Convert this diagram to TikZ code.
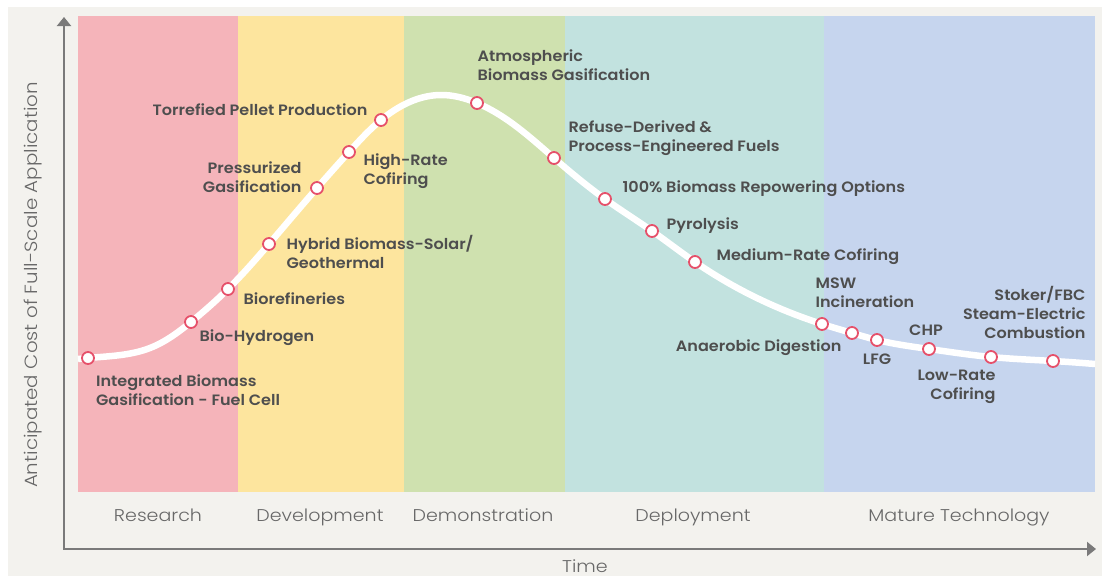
\documentclass[tikz,border=0pt]{standalone}
\usepackage{fontspec}
\setmainfont{Poppins}
\IfFontExistsTF{Poppins SemiBold}
  {\newfontfamily\lblfont{Poppins SemiBold}[FakeStretch=1.07]}
  {\newfontfamily\lblfont{Poppins}[FakeBold=1.5,FakeStretch=1.07]}
\IfFontExistsTF{Poppins Light}
  {\newfontfamily\phasefont{Poppins Light}[FakeStretch=1.12]}
  {\newfontfamily\phasefont{Poppins}[FakeStretch=1.12]}
\usetikzlibrary{positioning, arrows.meta, hobby}
\pgfdeclarelayer{bg}
\pgfsetlayers{bg,main}
\definecolor{paper}{HTML}{F3F2EE}
\definecolor{pinkband}{HTML}{F5B4BA}
\definecolor{yellowband}{HTML}{FDE59E}
\definecolor{greenband}{HTML}{CFE1AF}
\definecolor{tealband}{HTML}{C2E2DF}
\definecolor{blueband}{HTML}{C6D5EE}
\definecolor{dotred}{HTML}{E6506A}
\definecolor{txt}{HTML}{4E4E4E}
\definecolor{phasetxt}{HTML}{686868}
\definecolor{axisgray}{HTML}{7A7A7A}

\begin{document}
\begin{tikzpicture}[x=1pt, y=-1pt,
     node distance = 6pt and 6pt,
        dot/.style = {circle, draw=dotred, fill=white, line width=1.8pt,
                     minimum size=12pt, inner sep=0pt},
        lbl/.style = {font=\lblfont\fontsize{15}{19}\selectfont, text=txt,
                     inner sep=0pt, align=left},
      phase/.style = {font=\phasefont\fontsize{17}{19}\selectfont, text=phasetxt, anchor=base},
       axis/.style = {draw=axisgray, line width=2pt},
      curve/.style = {draw=white, line width=6.5pt}
                        ]
\useasboundingbox (0,0) rectangle (1102,576);
\node (igfc)    [dot] at (88,358)  {};
\node (bioh)    [dot] at (191,322) {};
\node (bioref)  [dot] at (228,289) {};
\node (hybrid)  [dot] at (269,244) {};
\node (press)   [dot] at (317,188) {};
\node (hirate)  [dot] at (349,152) {};
\node (torr)    [dot] at (381,120) {};
\node (atmo)    [dot] at (477,103) {};
\node (refuse)  [dot] at (554,158) {};
\node (repower) [dot] at (605,199) {};
\node (pyro)    [dot] at (652,231) {};
\node (medium)  [dot] at (695,262) {};
\node (msw)     [dot] at (822,324) {};
\node (anaer)   [dot] at (852,333) {};
\node (lfg)     [dot] at (877,340) {};
\node (chp)     [dot] at (929,349) {};
\node (lowrate) [dot] at (991,357) {};
\node (stoker)  [dot] at (1053,361) {};
\node [lbl, below right=12pt and 3pt of igfc] {Integrated Biomass\\Gasification - Fuel Cell};
\node [lbl, below right=2.5pt and 3.5pt of bioh] {Bio-Hydrogen};
\node [lbl, below right=-1.5pt and 10.5pt of bioref] {Biorefineries};
\node [lbl, below right=-13.5pt and 12.5pt of hybrid] {Hybrid Biomass-Solar/\\Geothermal};
\node [lbl, align=right, above left=-9.5pt and 10.5pt of press] {Pressurized\\Gasification};
\node [lbl, below right=-3.5pt and 9.5pt of hirate] {High-Rate\\Cofiring};
\node [lbl, above left=-0.5pt and 8.5pt of torr] {Torrefied Pellet Production};
\node [lbl, above right=17.5pt and -4.5pt of atmo] {Atmospheric\\Biomass Gasification};
\node [lbl, above right=-2.5pt and 9.5pt of refuse] {Refuse-Derived \&\\Process-Engineered Fuels};
\node [lbl, above right=-2.5pt and 12.5pt of repower] {100\% Biomass Repowering Options};
\node [lbl, above right=-7.5pt and 9.5pt of pyro] {Pyrolysis};
\node [lbl, above right=-7.5pt and 16.5pt of medium] {Medium-Rate Cofiring};
\node [lbl, above right=11.5pt and -11.5pt of msw] {MSW\\Incineration};
\node [lbl, below left=1.5pt and 5.5pt of anaer] {Anaerobic Digestion};
\node [lbl, below=6.5pt of lfg] {LFG};
\node [lbl, above=6pt of chp, xshift=-3pt] {CHP};
\node [lbl, align=right, below left=7.5pt and -9.5pt of lowrate] {Low-Rate\\Cofiring};
\node [lbl, align=right, above left=17.5pt and -37.5pt of stoker] {Stoker/FBC\\Steam-Electric\\Combustion};
\node (research) [phase] at (158,521) {Research};
\node (develop)  [phase] at (320,521) {Development};
\node (demo)     [phase] at (483,521) {Demonstration};
\node (deploy)   [phase] at (693,521) {Deployment};
\node (mature)   [phase] at (959,521) {Mature Technology};
\node (cost)     [phase, anchor=center, rotate=90, font=\phasefont\fontsize{17.7}{19}\selectfont]
                 at (33,285) {Anticipated Cost of Full-Scale Application};
\node (time)     [phase, inner sep=0pt] at (585,572) {Time};
\coordinate (origin) at (64,549);
\coordinate (ytip)   at (64,17);
\coordinate (xtip)   at (1096,549);
\draw[axis, {Triangle[length=9pt,width=14pt]}-{Triangle[length=9pt,width=14pt]}]
     (ytip) -- (origin) -- (xtip);
\coordinate (cstart) at (78,359);
\coordinate (bend)   at (150,348);
\coordinate (peak)   at (440,95);
\coordinate (cend)   at (1095,364);
\begin{pgfonlayer}{bg}
\fill[paper] (8,7) rectangle (1102,576);
\fill[pinkband]   (78,16)  rectangle (238,492);
\fill[yellowband] (238,16) rectangle (404,492);
\fill[greenband]  (404,16) rectangle (565,492);
\fill[tealband]   (565,16) rectangle (824,492);
\fill[blueband]   (824,16) rectangle (1095,492);
\draw[curve] (cstart) to[curve through={(igfc.center) .. (bend) .. (bioh.center)
     .. (bioref.center) .. (hybrid.center) .. (press.center) .. (hirate.center)
     .. (torr.center) .. (peak) .. (atmo.center) .. (refuse.center) .. (repower.center)
     .. (pyro.center) .. (medium.center) .. (msw.center) .. (anaer.center) .. (lfg.center)
     .. (chp.center) .. (lowrate.center) .. (stoker.center)}] (cend);
\end{pgfonlayer}
\end{tikzpicture}
\end{document}
